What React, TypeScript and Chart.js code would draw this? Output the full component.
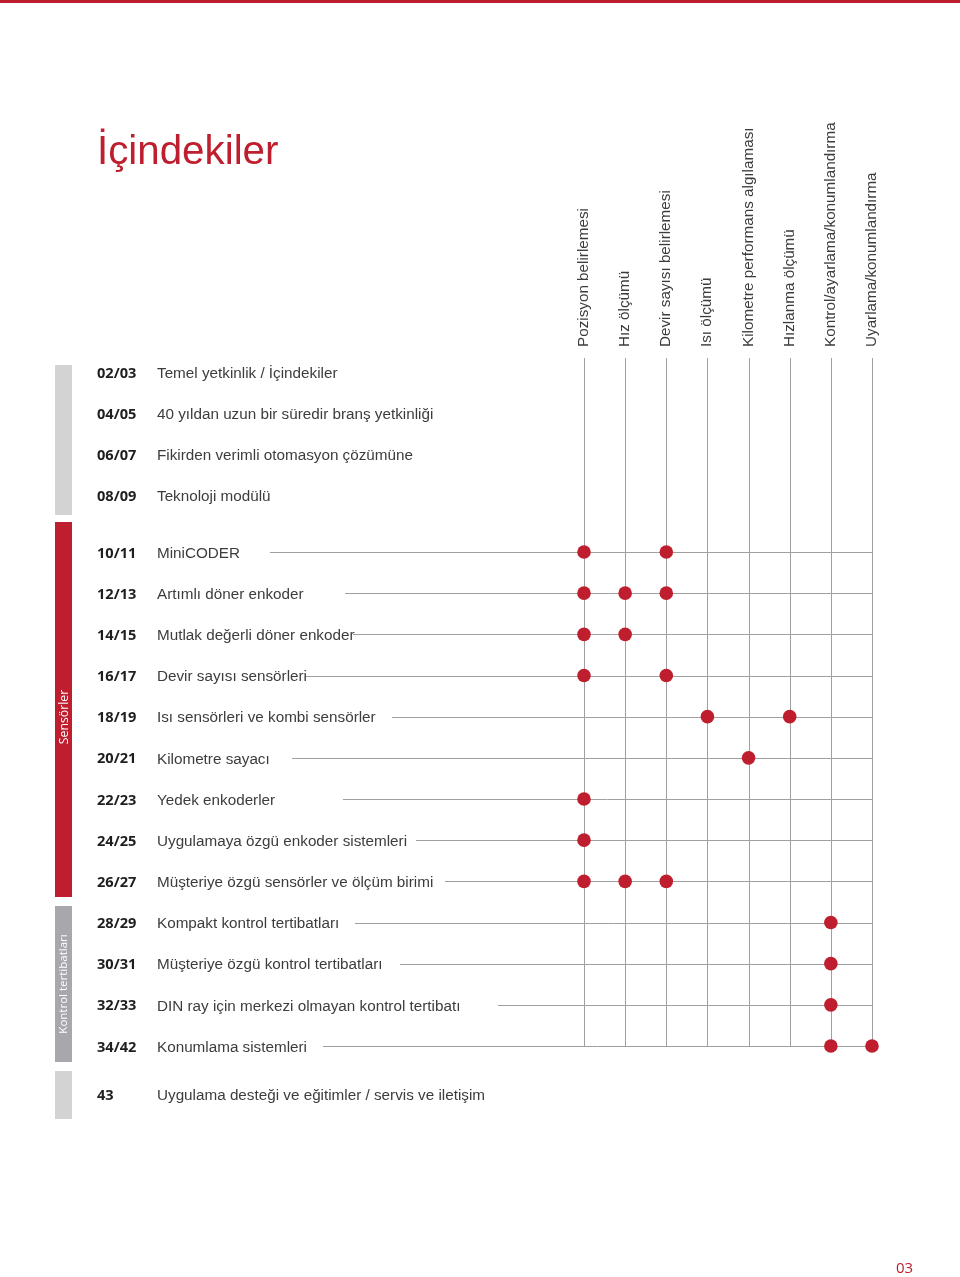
import React, { useEffect, useRef } from "react";
import { Chart, registerables } from "chart.js";

Chart.register(...registerables);

// ---- Data ----
const columns = [
  "Pozisyon belirlemesi",
  "Hız ölçümü",
  "Devir sayısı belirlemesi",
  "Isı ölçümü",
  "Kilometre performans algılaması",
  "Hızlanma ölçümü",
  "Kontrol/ayarlama/konumlandırma",
  "Uyarlama/konumlandırma",
];

const introPages = ["02/03", "04/05", "06/07", "08/09"];
const introTitles = [
  "Temel yetkinlik / İçindekiler",
  "40 yıldan uzun bir süredir branş yetkinliği",
  "Fikirden verimli otomasyon çözümüne",
  "Teknoloji modülü",
];

const matrixPages = [
  "10/11", "12/13", "14/15", "16/17", "18/19", "20/21", "22/23",
  "24/25", "26/27", "28/29", "30/31", "32/33", "34/42",
];
const matrixTitles = [
  "MiniCODER",
  "Artımlı döner enkoder",
  "Mutlak değerli döner enkoder",
  "Devir sayısı sensörleri",
  "Isı sensörleri ve kombi sensörler",
  "Kilometre sayacı",
  "Yedek enkoderler",
  "Uygulamaya özgü enkoder sistemleri",
  "Müşteriye özgü sensörler ve ölçüm birimi",
  "Kompakt kontrol tertibatları",
  "Müşteriye özgü kontrol tertibatları",
  "DIN ray için merkezi olmayan kontrol tertibatı",
  "Konumlama sistemleri",
];
// column indices marked for each matrix row
const marks = [
  [0, 2],
  [0, 1, 2],
  [0, 1],
  [0, 2],
  [3, 5],
  [4],
  [0],
  [0],
  [0, 1, 2],
  [6],
  [6],
  [6],
  [6, 7],
];

const outroPages = ["43"];
const outroTitles = ["Uygulama desteği ve eğitimler / servis ve iletişim"];

const groupLabels = ["", "Sensörler", "Kontrol tertibatları", ""];

// ---- Layout / style (not data) ----
const RED = "#be1e2d";
const TEXT = "#3c3c3c";
const GRID = "#a0a0a0";
const lineStartX = [270, 345, 353, 305, 392, 292, 343, 416, 445, 355, 400, 498, 323];
const groupBars = [
  { top: 365, bottom: 515, color: "#d1d3d5", labelY: 0, size: 12 },
  { top: 522, bottom: 897, color: RED, labelY: 717, size: 12.3 },
  { top: 906, bottom: 1062, color: "#a6a8ab", labelY: 984, size: 11.5 },
  { top: 1071, bottom: 1119, color: "#d1d3d5", labelY: 0, size: 12 },
];
const INTRO_OFFSET = -4.372;
const OUTRO_OFFSET = 13.166;
const BODY_FONT = "15.25px 'Liberation Sans', Arial, sans-serif";

export default function App() {
  const ref = useRef<HTMLCanvasElement | null>(null);

  useEffect(() => {
    if (!ref.current) return;
    const points: { x: number; y: number }[] = [];
    marks.forEach((cols, r) => cols.forEach((c) => points.push({ x: c, y: r })));

    const tocPlugin = {
      id: "toc",
      beforeDatasetsDraw(chart: any) {
        const ctx = chart.ctx;
        const xs = chart.scales.x;
        const ys = chart.scales.y;
        ctx.save();
        ctx.strokeStyle = GRID;
        ctx.lineWidth = 1;
        const bottom = ys.getPixelForValue(matrixPages.length - 1);
        columns.forEach((_, i) => {
          const x = Math.round(xs.getPixelForValue(i)) + 0.5;
          ctx.beginPath();
          ctx.moveTo(x, 358);
          ctx.lineTo(x, bottom);
          ctx.stroke();
        });
        const right = xs.getPixelForValue(columns.length - 1);
        matrixPages.forEach((_, k) => {
          const y = Math.round(ys.getPixelForValue(k)) + 0.5;
          ctx.beginPath();
          ctx.moveTo(lineStartX[k], y);
          ctx.lineTo(right, y);
          ctx.stroke();
        });
        ctx.restore();
      },
      afterDraw(chart: any) {
        const ctx = chart.ctx;
        const xs = chart.scales.x;
        const ys = chart.scales.y;
        ctx.save();
        // top band
        ctx.fillStyle = RED;
        ctx.fillRect(0, 0, chart.width, 3);
        // title
        ctx.fillStyle = RED;
        ctx.font = "40.3px 'Liberation Sans', Arial, sans-serif";
        ctx.textBaseline = "alphabetic";
        ctx.textAlign = "left";
        ctx.fillText("İçindekiler", 97, 164);

        // column headers
        ctx.fillStyle = TEXT;
        ctx.font = BODY_FONT;
        columns.forEach((label, i) => {
          const x = xs.getPixelForValue(i) + 4;
          ctx.save();
          ctx.translate(x, 347);
          ctx.rotate(-Math.PI / 2);
          ctx.textAlign = "left";
          ctx.textBaseline = "alphabetic";
          ctx.fillText(label, 0, 0);
          ctx.restore();
        });

        // group bars
        groupBars.forEach((g, i) => {
          ctx.fillStyle = g.color;
          ctx.fillRect(55, g.top, 17, g.bottom - g.top);
          if (groupLabels[i]) {
            ctx.save();
            ctx.translate(64, g.labelY);
            ctx.rotate(-Math.PI / 2);
            ctx.fillStyle = "#ffffff";
            ctx.font = `${g.size}px 'Open Sans', sans-serif`;
            ctx.textAlign = "center";
            ctx.textBaseline = "middle";
            ctx.fillText(groupLabels[i], 0, 0);
            ctx.restore();
          }
        });

        // rows
        const drawRow = (page: string, title: string, v: number) => {
          const y = ys.getPixelForValue(v) + 1.5;
          ctx.textBaseline = "middle";
          ctx.textAlign = "left";
          ctx.fillStyle = "#1e1e1e";
          ctx.font = "bold 14.6px 'Open Sans', sans-serif";
          ctx.fillText(page, 97, y);
          ctx.fillStyle = TEXT;
          ctx.font = BODY_FONT;
          ctx.fillText(title, 157, y);
        };
        introPages.forEach((p, i) => drawRow(p, introTitles[i], INTRO_OFFSET + i));
        matrixPages.forEach((p, i) => drawRow(p, matrixTitles[i], i));
        outroPages.forEach((p, i) => drawRow(p, outroTitles[i], OUTRO_OFFSET + i));

        // page number
        ctx.fillStyle = RED;
        ctx.font = "15px 'Open Sans', sans-serif";
        ctx.textAlign = "left";
        ctx.textBaseline = "middle";
        ctx.fillText("03", 896, 1269);
        ctx.restore();
      },
    };

    const chart = new Chart(ref.current, {
      type: "scatter",
      data: {
        datasets: [
          {
            data: points,
            backgroundColor: RED,
            borderWidth: 0,
            pointRadius: 6.8,
            pointHoverRadius: 6.8,
            clip: false,
          } as any,
        ],
      },
      options: {
        responsive: false,
        animation: false,
        events: [],
        layout: { padding: { left: 584, right: 88, top: 552, bottom: 231 } },
        plugins: { legend: { display: false }, tooltip: { enabled: false } },
        scales: {
          x: { type: "linear", min: 0, max: 7, display: false },
          y: { type: "linear", min: 0, max: 12, reverse: true, display: false },
        },
      },
      plugins: [tocPlugin],
    });
    return () => chart.destroy();
  }, []);

  return (
    <div style={{ position: "absolute", left: 0, top: 0, width: 960, height: 1277, background: "#fff" }}>
      <canvas ref={ref} width={960} height={1277} style={{ width: 960, height: 1277 }} />
    </div>
  );
}
